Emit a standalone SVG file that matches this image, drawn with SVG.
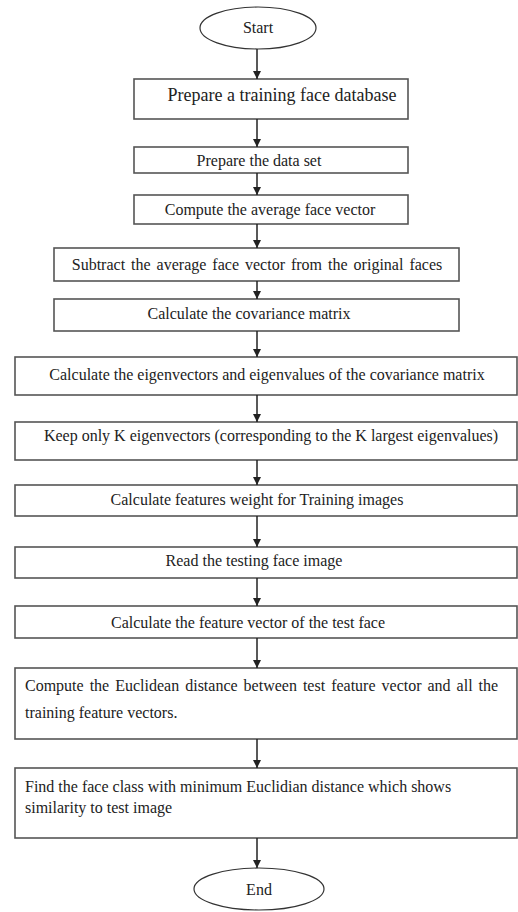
<svg xmlns="http://www.w3.org/2000/svg" width="518" height="912" viewBox="0 0 518 912">
<style>
  .box { fill: #ffffff; stroke: #555555; stroke-width: 1.6; }
  .term { fill: #ffffff; stroke: #333333; stroke-width: 1.2; }
  text { font-family: "Liberation Serif", "Times New Roman", serif; font-size: 16px; fill: #222222; }
  .c { text-anchor: middle; }
  .conn line { stroke: #222222; stroke-width: 1.5; }
</style>
<defs>
  <marker id="arr" viewBox="0 0 8 10" refX="8" refY="5" markerWidth="8" markerHeight="10" markerUnits="userSpaceOnUse" orient="auto">
    <path d="M0,1 L8,5 L0,9 z" fill="#222222"/>
  </marker>
</defs>
<rect x="0" y="0" width="518" height="912" fill="#ffffff"/>

<g id="start">
  <ellipse class="term" cx="258" cy="28" rx="58" ry="21"/>
  <text class="c" x="258" y="33">Start</text>
</g>
<g id="n1">
  <rect class="box" x="134" y="79" width="274" height="40"/>
  <text class="c" x="282" y="101" style="font-size:18px">Prepare a training face database</text>
</g>
<g id="n2">
  <rect class="box" x="134" y="147" width="274" height="26"/>
  <text class="c" x="259" y="166">Prepare the data set</text>
</g>
<g id="n3">
  <rect class="box" x="134" y="195" width="274" height="29"/>
  <text class="c" x="270" y="215">Compute the average face vector</text>
</g>
<g id="n4">
  <rect class="box" x="54" y="248" width="405" height="33"/>
  <text class="c" x="257" y="270" word-spacing="2">Subtract the average face vector from the original faces</text>
</g>
<g id="n5">
  <rect class="box" x="54" y="299" width="405" height="32"/>
  <text class="c" x="249" y="319">Calculate the covariance matrix</text>
</g>
<g id="n6">
  <rect class="box" x="15" y="357" width="502" height="38"/>
  <text class="c" x="267" y="380">Calculate the eigenvectors and eigenvalues of the covariance matrix</text>
</g>
<g id="n7">
  <rect class="box" x="15" y="422" width="502" height="38"/>
  <text class="c" x="271" y="441">Keep only K eigenvectors (corresponding to the K largest eigenvalues)</text>
</g>
<g id="n8">
  <rect class="box" x="15" y="485" width="502" height="31"/>
  <text class="c" x="257" y="505">Calculate features weight for Training images</text>
</g>
<g id="n9">
  <rect class="box" x="15" y="547" width="502" height="31"/>
  <text class="c" x="254" y="566">Read the testing face image</text>
</g>
<g id="n10">
  <rect class="box" x="15" y="606" width="502" height="32"/>
  <text class="c" x="248" y="628">Calculate the feature vector of the test face</text>
</g>
<g id="n11">
  <rect class="box" x="15" y="668" width="502" height="71"/>
  <text x="25" y="691" word-spacing="2">Compute the Euclidean distance between test feature vector and all the</text>
  <text x="25" y="718">training feature vectors.</text>
</g>
<g id="n12">
  <rect class="box" x="15" y="768" width="502" height="70"/>
  <text x="25" y="792">Find the face class with minimum Euclidian distance which shows</text>
  <text x="25" y="813">similarity to test image</text>
</g>
<g id="end">
  <ellipse class="term" cx="259" cy="889" rx="65" ry="21"/>
  <text class="c" x="259" y="895">End</text>
</g>

<g id="connectors" class="conn">
  <line x1="257" y1="49" x2="257" y2="79" marker-end="url(#arr)"/>
  <line x1="257" y1="119" x2="257" y2="147" marker-end="url(#arr)"/>
  <line x1="257" y1="173" x2="257" y2="195" marker-end="url(#arr)"/>
  <line x1="257" y1="224" x2="257" y2="248" marker-end="url(#arr)"/>
  <line x1="257" y1="281" x2="257" y2="299" marker-end="url(#arr)"/>
  <line x1="257" y1="331" x2="257" y2="357" marker-end="url(#arr)"/>
  <line x1="257" y1="395" x2="257" y2="422" marker-end="url(#arr)"/>
  <line x1="257" y1="460" x2="257" y2="485" marker-end="url(#arr)"/>
  <line x1="257" y1="516" x2="257" y2="547" marker-end="url(#arr)"/>
  <line x1="257" y1="578" x2="257" y2="606" marker-end="url(#arr)"/>
  <line x1="257" y1="638" x2="257" y2="668" marker-end="url(#arr)"/>
  <line x1="257" y1="739" x2="257" y2="768" marker-end="url(#arr)"/>
  <line x1="257" y1="838" x2="257" y2="868" marker-end="url(#arr)"/>
</g>
</svg>
